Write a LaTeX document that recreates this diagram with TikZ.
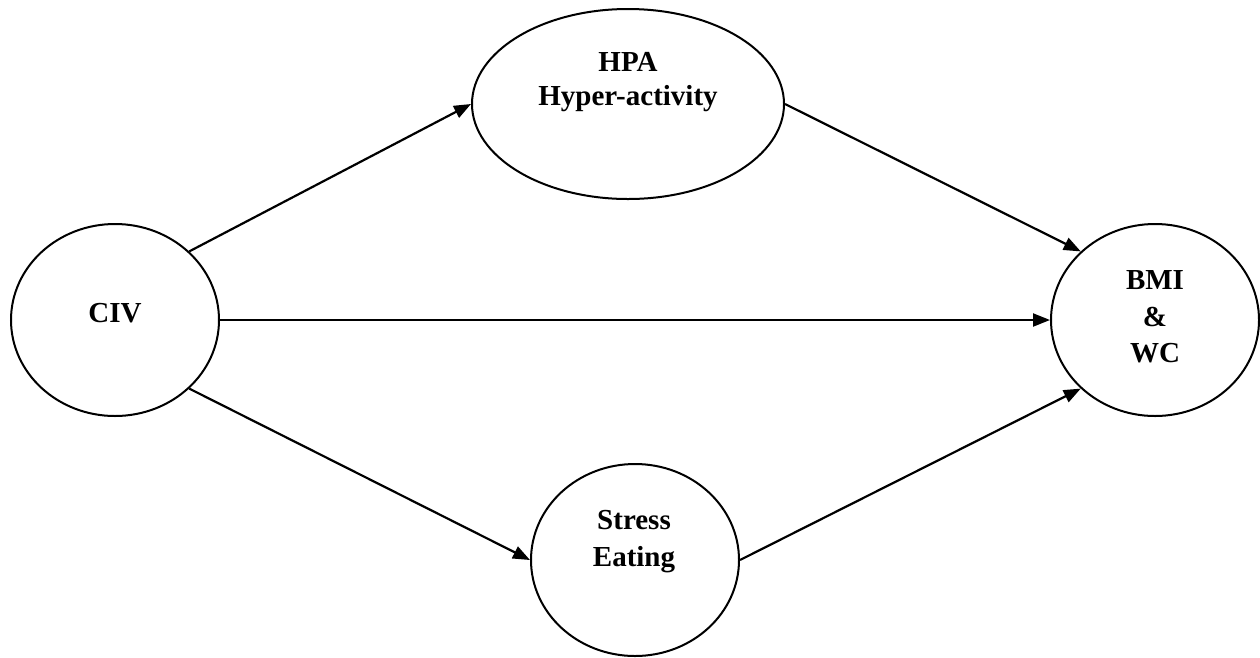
\documentclass[tikz,border=0pt]{standalone}
\usepackage{fontspec}
\setmainfont{Liberation Serif}
\usetikzlibrary{shapes.geometric,arrows.meta}
\tikzset{
  oval/.style={draw=black, line width=2pt, shape=ellipse, inner sep=0pt, minimum width=208pt, minimum height=192pt},
  lbl/.style={font=\fontsize{29}{36}\selectfont\bfseries, align=center, inner sep=0pt},
  conn/.style={line width=2.2pt, -{Triangle[length=17pt,width=13pt]}}
}
\begin{document}
\begin{tikzpicture}[x=1pt,y=-1pt]
\useasboundingbox (0,0) rectangle (1260,657);
\fill[white] (0,0) rectangle (1260,657);
\node[oval] (civ) at (115,320) {};
\node[oval, minimum width=312pt, minimum height=190pt] (hpa) at (628,104) {};
\node[oval] (se) at (635,560) {};
\node[oval] (bmi) at (1155,320) {};
\node[lbl, anchor=base] (civt) at (115,322) {CIV};
\node[lbl, font=\fontsize{29}{34}\selectfont\bfseries] (hpat) at (628,82.5) {HPA\\Hyper-activity};
\node[lbl, font=\fontsize{29}{37}\selectfont\bfseries] (set) at (634,541.5) {Stress\\Eating};
\node[lbl, font=\fontsize{29}{36.5}\selectfont\bfseries] (bmit) at (1155,317) {BMI\\\&\\WC};
\draw[conn] (civ.north east) -- (hpa.west);
\draw[conn] (civ.east) -- (bmi.west);
\draw[conn] (civ.south east) -- (se.west);
\draw[conn] (hpa.east) -- (bmi.north west);
\draw[conn] (se.east) -- (bmi.south west);
\end{tikzpicture}
\end{document}
